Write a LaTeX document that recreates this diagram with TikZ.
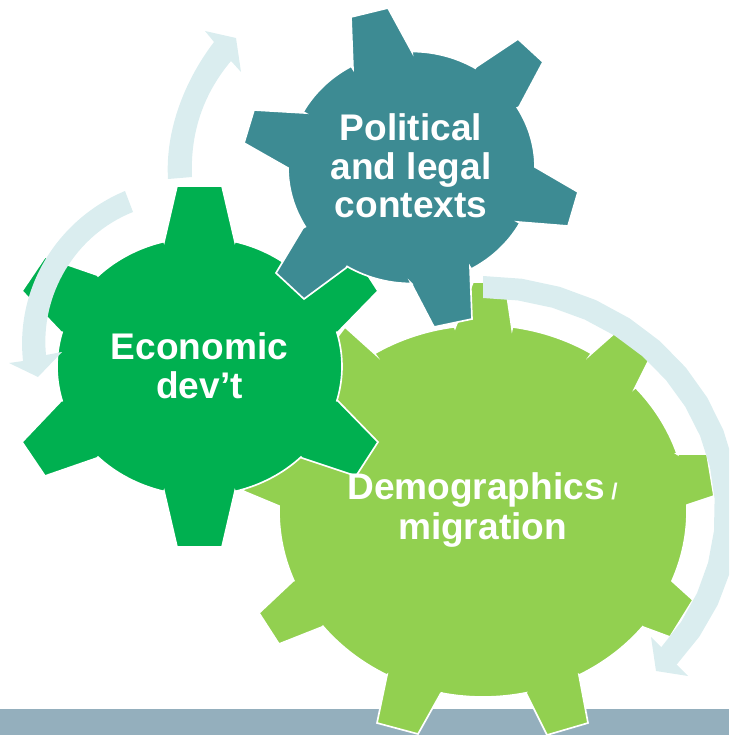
\documentclass[tikz,border=0pt]{standalone}
\usepackage{fontspec}
\setmainfont{Liberation Sans}
\definecolor{barblue}{HTML}{94AFBD}
\definecolor{lightgear}{HTML}{92D050}
\definecolor{darkgear}{HTML}{00B050}
\definecolor{tealgear}{HTML}{3D8B93}
\definecolor{arrowpale}{HTML}{DAEDEF}
\newcommand\garc[6]{-- plot[domain=#5:#6,samples=16] ({#1+#3*cos(\x)},{#2+#4*sin(\x)})}
\tikzset{
  gearshape/.style={draw=white,line width=1.25pt,line join=miter,miter limit=10},
  arrowshape/.style={fill=arrowpale,draw=none},
  geartext/.style={text=white,align=center,inner sep=0pt,font=\bfseries\fontsize{27.8}{28.9}\selectfont}
}
\begin{document}
\begin{tikzpicture}[x=0.75pt,y=-0.75pt]
\useasboundingbox (0,0) rectangle (729,735);
\clip (0,0) rectangle (729,735);
\fill[barblue] (0,709) rectangle (729,735);
% light green gear
\fill[lightgear,gearshape]
  (455,328) -- (473,282) -- (505,282) -- (512,329)
  \garc{483}{511}{204}{186}{-81.7}{-57.9} -- (591,354)
  -- (617,331) -- (650,358) -- (635,388)
  \garc{483}{511}{204}{186}{-41.6}{-17.8} -- (677,454)
  -- (707,454) -- (714,496) -- (687,505)
  \garc{483}{511}{204}{186}{-1.8}{22.1} -- (672,581)
  -- (693,600) -- (670,637) -- (643,627)
  \garc{483}{511}{204}{186}{38.5}{61.9} -- (579,675)
  -- (588,723) -- (547,735) -- (526,693)
  \garc{483}{511}{204}{186}{77.8}{101.9} -- (441,693)
  -- (418,734) -- (377,723) -- (387,675)
  \garc{483}{511}{204}{186}{118.1}{141.7} -- (322,627)
  -- (279,644) -- (259,613) -- (293,581)
  \garc{483}{511}{204}{186}{158}{181.4} -- (279,506)
  -- (243,491) -- (258,455) -- (292,437)
  \garc{483}{511}{204}{186}{203}{223} -- (335,385)
  -- (320,360) -- (345,327) -- (375,354)
  \garc{483}{511}{204}{186}{237.9}{262} -- cycle;
% dark green gear
\fill[darkgear,gearshape]
  (164,242) -- (177,186) -- (222,186) -- (235,242)
  \garc{199.5}{366.5}{142.5}{129}{-75.5}{-44.6} -- (302,275)
  -- (356,257) -- (378,291) -- (338,332)
  \garc{199.5}{366.5}{142.5}{129}{-15.4}{15.4} -- (338,401)
  -- (378,442) -- (356,476) -- (302,458)
  \garc{199.5}{366.5}{142.5}{129}{44.6}{75.5} -- (235,491)
  -- (222,547) -- (177,547) -- (164,491)
  \garc{199.5}{366.5}{142.5}{129}{104.5}{135.4} -- (97,458)
  -- (45,476) -- (22,442) -- (61,401)
  \garc{199.5}{366.5}{142.5}{129}{164.6}{195.4} -- (61,332)
  -- (22,291) -- (45,257) -- (97,275)
  \garc{199.5}{366.5}{142.5}{129}{224.6}{255.5} -- cycle;
% teal gear
\fill[tealgear,gearshape]
  (353,69) -- (351,17) -- (388,8) -- (412,52)
  \garc{411.5}{167.5}{123.5}{116}{-89.8}{-58.9} -- (476,67)
  -- (518,39) -- (543,62) -- (519,107)
  \garc{411.5}{167.5}{123.5}{116}{-31}{0} -- (535,167)
  -- (578,192) -- (568,226) -- (518,222)
  \garc{411.5}{167.5}{123.5}{116}{28.6}{61.1} -- (470,267)
  -- (472,319) -- (434,327) -- (411,283)
  \garc{411.5}{167.5}{123.5}{116}{90}{121.5} -- (346,268)
  -- (304,299) -- (276,273) -- (303,228)
  \garc{411.5}{167.5}{123.5}{116}{149.3}{180} -- (288,168)
  -- (244,143) -- (254,110) -- (305,113)
  \garc{411.5}{167.5}{123.5}{116}{208.6}{240.8} -- cycle;
% circular arrows
\fill[arrowshape] (168,179) .. controls (165,130) and (185,80) .. (214,42)
  -- (205,31) -- (236,38) -- (241,72) -- (231,61)
  .. controls (205,92) and (190,130) .. (192,177) -- cycle;
\fill[arrowshape] (125,191) .. controls (60,218) and (15,285) .. (23,361)
  -- (9,363) -- (38,377) -- (62,352) -- (46,355)
  .. controls (40,295) and (75,235) .. (133,212) -- cycle;
\fill[arrowshape] (483,276) \garc{483}{511}{256}{235}{-90}{41} -- (677,665)
  -- (688,676) -- (656,671) -- (651,637) -- (662,648)
  \garc{483}{511}{232}{213}{40}{-90} -- cycle;
% labels
\node[geartext] (political) at (411,165.8) {Political\\and legal\\contexts};
\node[geartext] (economic) at (199.5,365.3) {Economic\\[0.4pt]dev’t};
\node[geartext] (demographics) at (482.5,510) {Demographics{\fontsize{17}{17}\selectfont\hspace{5pt}/}\\[0.4pt]migration};
\end{tikzpicture}
\end{document}
